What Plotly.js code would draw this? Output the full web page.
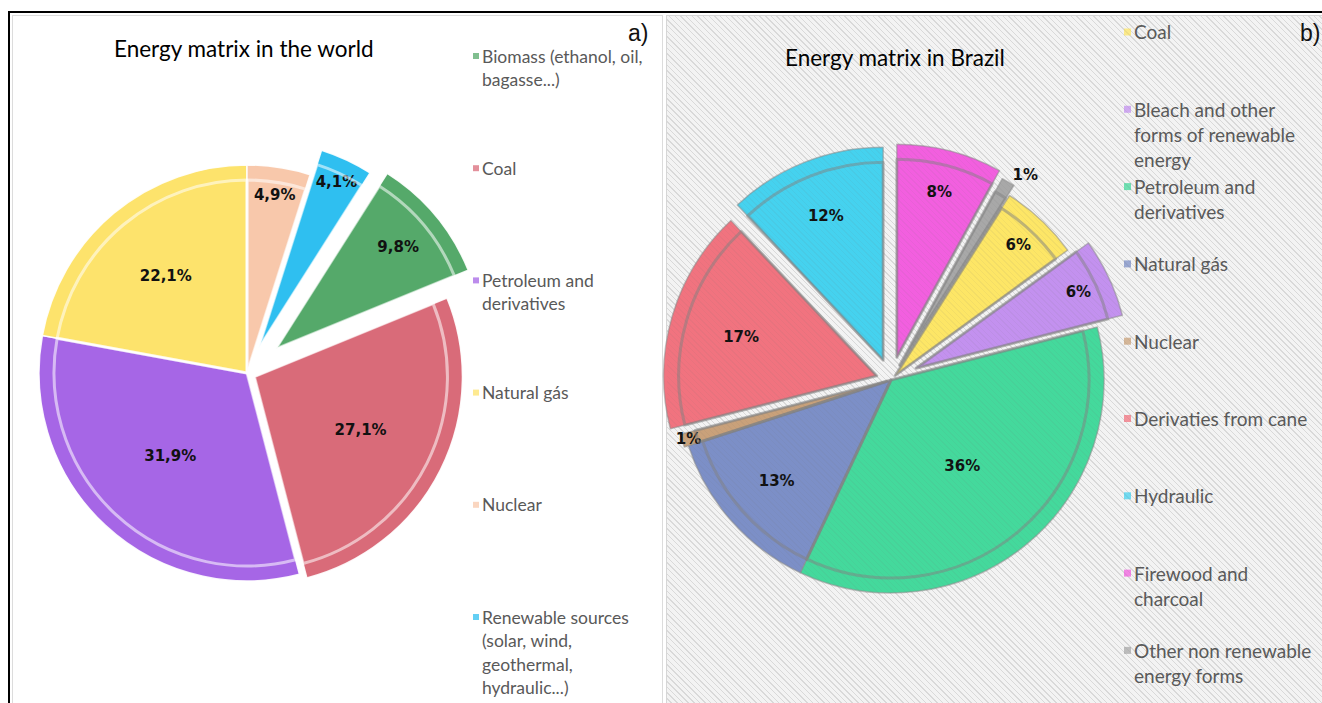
<!DOCTYPE html>
<html>
<head>
<meta charset="utf-8">
<script src="https://cdn.plot.ly/plotly-3.0.1.min.js"></script>
<style>
  html, body { margin: 0; padding: 0; background: #ffffff; }
  #wrap { position: relative; width: 1322px; height: 703px; overflow: hidden; background: #ffffff; }
  .frame-top { position: absolute; left: 8px; top: 11px; width: 1314px; height: 2px; background: #000; }
  .frame-left { position: absolute; left: 8px; top: 11px; width: 2px; height: 692px; background: #000; }
  #panelA { position: absolute; left: 12px; top: 15px; width: 649px; height: 700px;
            background: #ffffff; border: 1px solid #dcdcdc; }
  #panelB { position: absolute; left: 666px; top: 15px; width: 660px; height: 700px;
            border: 1px solid #d6d6d6;
            background-color: #f3f3f3;
            background-image: repeating-linear-gradient(45deg, #e1e1e1 0px, #e1e1e1 1px, rgba(0,0,0,0) 1px, rgba(0,0,0,0) 4px); }
  #hatch { position: absolute; left: 667px; top: 16px; width: 660px; height: 700px; pointer-events: none;
           background-image: repeating-linear-gradient(45deg, rgba(110,110,110,0.07) 0px, rgba(110,110,110,0.07) 1px, rgba(0,0,0,0) 1px, rgba(0,0,0,0) 4px); }
  #chart { position: absolute; left: 0; top: 0; width: 1322px; height: 703px; }
</style>
</head>
<body>
<div id="wrap">
  <div id="panelA"></div>
  <div id="panelB"></div>
  <div id="chart"></div>
  <div id="hatch"></div>
  <div class="frame-top"></div>
  <div class="frame-left"></div>
</div>
<script>
// World energy matrix (%)
const worldLabels = ["Biomass (ethanol, oil, bagasse...)", "Coal", "Petroleum and derivatives",
                     "Natural gás", "Nuclear", "Renewable sources (solar, wind, geothermal, hydraulic...)"];
const worldLegendLines = [["Biomass (ethanol, oil,", "bagasse...)"], ["Coal"], ["Petroleum and", "derivatives"],
                          ["Natural gás"], ["Nuclear"], ["Renewable sources", "(solar, wind,", "geothermal,", "hydraulic...)"]];
const worldValues = [9.8, 27.1, 31.9, 22.1, 4.9, 4.1];
const worldColors = ["#55a96a", "#d96b79", "#a666e6", "#fde36c", "#f8c8ab", "#2fbff0"];
const worldPull   = [0.18, 0.04, 0, 0, 0, 0.13];

// Brazil energy matrix (%)
const brazilLabels = ["Coal", "Bleach and other forms of renewable energy", "Petroleum and derivatives",
                      "Natural gás", "Nuclear", "Derivaties from cane", "Hydraulic",
                      "Firewood and charcoal", "Other non renewable energy forms"];
const brazilLegendLines = [["Coal"], ["Bleach and other", "forms of renewable", "energy"], ["Petroleum and", "derivatives"],
                           ["Natural gás"], ["Nuclear"], ["Derivaties from cane"], ["Hydraulic"],
                           ["Firewood and", "charcoal"], ["Other non renewable", "energy forms"]];
const brazilValues = [6, 6, 36, 13, 1, 17, 12, 8, 1];
const brazilColors = ["#fde666", "#c391ef", "#44d99c", "#7c8fc7", "#c9a17a", "#f1737f", "#45d2ef", "#f25fdf", "#a8a8a8"];
const brazilPull   = [0.03, 0.13, 0, 0, 0.02, 0.07, 0.1, 0.11, 0.08];

const W = 1322, H = 703;
const px = x => x / W;
const py = y => 1 - y / H;
const sum = a => a.reduce((s, v) => s + v, 0);

const worldText = worldValues.map(v => v.toFixed(1).replace(".", ",") + "%");
const brazilText = brazilValues.map(v => v + "%");

// the first slice starts after the slices that wrap past 12 o'clock
const worldRot = (worldValues[4] + worldValues[5]) / sum(worldValues) * 360;
const brazilRot = (brazilValues[7] + brazilValues[8]) / sum(brazilValues) * 360;

// square pie box around a centre (px) so that the drawn radius is R
function pieDomain(cx, cy, R, pulls) {
  const half = R * (1 + Math.max(...pulls));
  return { x: [px(cx - half), px(cx + half)], y: [py(cy + half), py(cy - half)] };
}

function pieTraces(o) {
  const main = {
    type: "pie", labels: o.labels, values: o.values, text: o.text,
    textinfo: "text", textposition: o.textpos, insidetextorientation: "horizontal",
    sort: false, direction: "clockwise", rotation: o.rot, pull: o.pull,
    marker: { colors: o.colors, line: { color: o.edge, width: 1.5 } },
    insidetextfont: { family: "DejaVu Sans", size: o.fs, color: "#111111", weight: "bold" },
    outsidetextfont: { family: "DejaVu Sans", size: o.fs - 2, color: "#111111", weight: "bold" },
    domain: pieDomain(o.cx, o.cy, o.R, o.pull),
    showlegend: false, hoverinfo: "label+text"
  };
  // bevel: a lighter outline inset from each slice's rim
  const rIn = o.R - o.inset;
  const pullIn = o.pull.map(p => p * o.R / rIn);
  const bevel = {
    type: "pie", labels: o.labels, values: o.values, textinfo: "none",
    sort: false, direction: "clockwise", rotation: o.rot, pull: pullIn,
    marker: { colors: o.values.map(() => "rgba(0,0,0,0)"), line: { color: o.bevel, width: 3 } },
    domain: pieDomain(o.cx, o.cy, rIn, pullIn),
    showlegend: false, hoverinfo: "skip"
  };
  return [main, bevel];
}

const traces = [
  ...pieTraces({ labels: worldLabels, values: worldValues, text: worldText, colors: worldColors,
    pull: worldPull, rot: worldRot, textpos: "inside", fs: 16,
    cx: 247, cy: 373, R: 208, inset: 15,
    edge: "rgba(255,255,255,0.9)", bevel: "rgba(255,255,255,0.55)" }),
  ...pieTraces({ labels: brazilLabels, values: brazilValues, text: brazilText, colors: brazilColors,
    pull: brazilPull, rot: brazilRot,
    textpos: brazilValues.map((v, i) => i === brazilValues.length - 1 ? "outside" : "inside"), fs: 17,
    cx: 891, cy: 380, R: 213, inset: 15,
    edge: "rgba(140,140,140,0.55)", bevel: "rgba(130,130,130,0.5)" })
];

const annotations = [];
const shapes = [];

annotations.push({ text: "Energy matrix in the world", x: px(244), y: py(48), xref: "paper", yref: "paper",
  showarrow: false, xanchor: "center", yanchor: "middle",
  font: { family: "Lato", size: 22.5, color: "#000000" } });
annotations.push({ text: "Energy matrix in Brazil", x: px(895), y: py(57), xref: "paper", yref: "paper",
  showarrow: false, xanchor: "center", yanchor: "middle",
  font: { family: "Lato", size: 22.5, color: "#000000" } });
annotations.push({ text: "a)", x: px(650), y: py(33), xref: "paper", yref: "paper",
  showarrow: false, xanchor: "right", yanchor: "middle",
  font: { family: "Liberation Sans", size: 23, color: "#111111" } });
annotations.push({ text: "b)", x: px(1298), y: py(33), xref: "paper", yref: "paper",
  showarrow: false, xanchor: "left", yanchor: "middle",
  font: { family: "Liberation Sans", size: 23, color: "#111111" } });

// legend entries, one text line per annotation so the line pitch is exact
function legend(lines, colors, x0, y0, step, lineGap, fontSize, box) {
  lines.forEach((item, i) => {
    const yc = y0 + i * step;
    shapes.push({ type: "rect", xref: "paper", yref: "paper",
      x0: px(x0 - box - 2), x1: px(x0 - 2), y0: py(yc + box / 2), y1: py(yc - box / 2),
      fillcolor: colors[i], line: { width: 0 }, opacity: 0.75 });
    item.forEach((t, k) => {
      annotations.push({ text: t, x: px(x0 - 1), y: py(yc + k * lineGap), xref: "paper", yref: "paper",
        showarrow: false, xanchor: "left", yanchor: "middle",
        font: { family: "Lato", size: fontSize, color: "#595959" } });
    });
  });
}
legend(worldLegendLines, worldColors, 481, 56, 112.2, 23.5, 17.5, 6);
legend(brazilLegendLines, brazilColors, 1133, 32, 77.3, 25, 19, 7);

const layout = {
  width: W, height: H,
  margin: { l: 0, r: 0, t: 0, b: 0 },
  paper_bgcolor: "rgba(0,0,0,0)", plot_bgcolor: "rgba(0,0,0,0)",
  uniformtext: { mode: "show", minsize: 15 },
  annotations: annotations, shapes: shapes
};

Plotly.newPlot("chart", traces, layout, { displayModeBar: false, staticPlot: true });
</script>
</body>
</html>
